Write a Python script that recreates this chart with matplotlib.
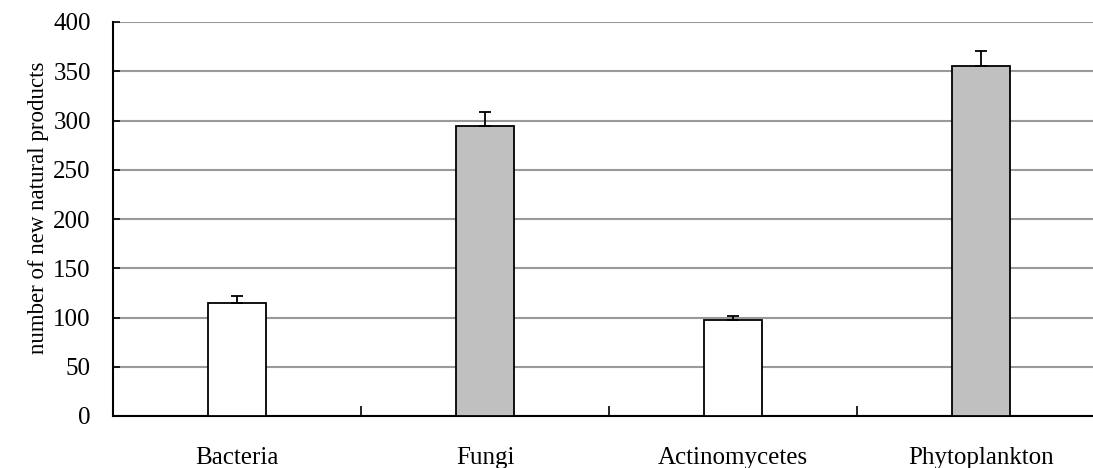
import numpy as np
import matplotlib
matplotlib.use("Agg")
import matplotlib.pyplot as plt

# data
categories = ['Bacteria', 'Fungi', 'Actinomycetes', 'Phytoplankton']
values = [115, 294, 97, 355]
errors = [7, 15, 4.5, 16]
fill_colors = ['white', '#c0c0c0', 'white', '#c0c0c0']
y_ticks = [0, 50, 100, 150, 200, 250, 300, 350, 400]

plt.rcParams['font.family'] = ['Liberation Serif', 'DejaVu Serif']

fig = plt.figure(figsize=(10.93, 4.68), dpi=100)
# axes runs a little past the right edge, as in the reference
ax = fig.add_axes([113/1093, 52/468, 992/1093, 394/468])

x = np.arange(len(categories))
ax.bar(x, values, width=0.23, color=fill_colors, edgecolor='black', linewidth=1.3, zorder=3)
ax.errorbar(x, values, yerr=[np.zeros(len(errors)), errors], fmt='none',
            ecolor='black', elinewidth=1.3, capsize=4, capthick=1.3, zorder=4)

ax.set_xlim(-0.5, len(categories) - 0.5)
ax.set_ylim(0, 400)
ax.set_yticks(y_ticks)
ax.yaxis.grid(True, color='#999999', linewidth=1.5, zorder=0)
ax.set_axisbelow(True)

# category labels at centres, tick marks at the boundaries
ax.set_xticks(x)
ax.set_xticklabels(categories, fontsize=18)
ax.tick_params(axis='x', which='major', length=0, pad=22)
ax.set_xticks(np.arange(len(categories) + 1) - 0.5, minor=True)
ax.tick_params(axis='x', which='minor', direction='in', length=7, width=1.2)
ax.tick_params(axis='y', direction='in', length=5, width=1.2, labelsize=18, pad=16)

ax.set_ylabel('number of new natural products', fontsize=16.5)
ax.yaxis.set_label_coords(-0.0645, 0.529)

for side in ['top', 'right']:
    ax.spines[side].set_visible(False)
for side in ['left', 'bottom']:
    ax.spines[side].set_linewidth(1.5)

plt.savefig('out.png', dpi=100)
